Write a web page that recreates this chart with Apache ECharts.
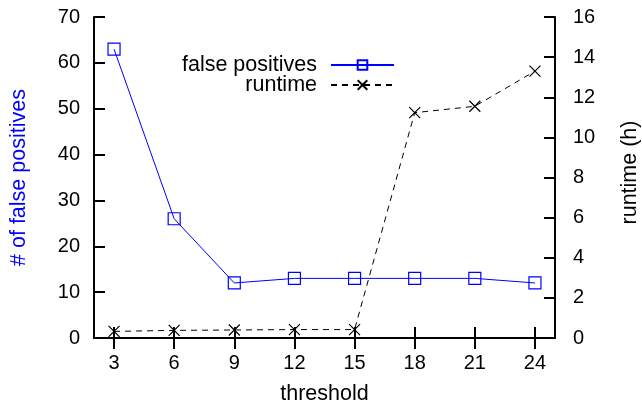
<!DOCTYPE html>
<html>
<head>
<meta charset="utf-8">
<script src="https://cdn.jsdelivr.net/npm/echarts@6/dist/echarts.min.js"></script>
<style>html,body{margin:0;padding:0;background:#fff}#c{width:642px;height:405px}</style>
</head>
<body>
<div id="c"></div>
<script>
var thresholds = [3, 6, 9, 12, 15, 18, 21, 24];
var falsePositives = [63, 26, 12, 13, 13, 13, 13, 12];
var runtime = [0.33, 0.38, 0.4, 0.42, 0.42, 11.23, 11.55, 13.3];
var leftTicks = [0, 10, 20, 30, 40, 50, 60, 70];
var rightTicks = [0, 2, 4, 6, 8, 10, 12, 14, 16];

var FONT = 'Liberation Sans, Arial, sans-serif';
var chart = echarts.init(document.getElementById('c'));
var axisLine = {show: true, lineStyle: {color: '#000', width: 2}};
var tick = {show: true, inside: true, length: 11, lineStyle: {color: '#000', width: 2}};

chart.setOption({
  animation: false,
  backgroundColor: '#fff',
  textStyle: {fontFamily: FONT},
  grid: {left: 94, right: 87, top: 17, bottom: 67, containLabel: false, outerBoundsMode: 'none'},
  legend: [
    {
      data: ['false positives'], orient: 'vertical', align: 'right',
      right: 247, top: 54, itemWidth: 63, itemHeight: 12, itemGap: 0,
      textStyle: {fontFamily: FONT, fontSize: 21.5, color: '#000', padding: [0, 9, 0, 0]},
      padding: 0
    },
    {
      data: ['runtime'], orient: 'vertical', align: 'right',
      right: 247, top: 74, itemWidth: 63, itemHeight: 12, itemGap: 0,
      textStyle: {fontFamily: FONT, fontSize: 21.5, color: '#000', padding: [0, 9, 0, 0]},
      padding: 0
    }
  ],
  xAxis: [
    {
      type: 'value', min: 2, max: 25, position: 'bottom',
      name: 'threshold', nameLocation: 'middle', nameGap: 45,
      nameTextStyle: {fontFamily: FONT, fontSize: 21.5, color: '#000'},
      axisLine: axisLine,
      axisTick: Object.assign({customValues: thresholds}, tick),
      axisLabel: {customValues: thresholds, fontFamily: FONT, fontSize: 20, color: '#000', margin: 15},
      splitLine: {show: false}
    },
    {
      type: 'value', min: 2, max: 25, position: 'top',
      axisLine: axisLine,
      axisTick: Object.assign({customValues: thresholds}, tick),
      axisLabel: {show: false, customValues: thresholds},
      splitLine: {show: false}
    }
  ],
  yAxis: [
    {
      type: 'value', min: 0, max: 70, interval: 10, position: 'left',
      name: '# of false positives', nameLocation: 'middle', nameGap: 64,
      nameTextStyle: {fontFamily: FONT, fontSize: 21.5, color: '#0000ff'},
      axisLine: axisLine, axisTick: tick,
      axisLabel: {fontFamily: FONT, fontSize: 20, color: '#000', margin: 14,
        customValues: leftTicks},
      splitLine: {show: false}
    },
    {
      type: 'value', min: 0, max: 16, interval: 2, position: 'right',
      name: 'runtime (h)', nameLocation: 'middle', nameGap: 64,
      nameTextStyle: {fontFamily: FONT, fontSize: 21.5, color: '#000', padding: [0, 0, 0, 10]},
      axisLine: axisLine, axisTick: tick,
      axisLabel: {fontFamily: FONT, fontSize: 20, color: '#000', margin: 18,
        customValues: rightTicks},
      splitLine: {show: false}
    }
  ],
  series: [
    {
      name: 'false positives', type: 'line', xAxisIndex: 0, yAxisIndex: 0,
      data: thresholds.map(function (t, i) { return [t, falsePositives[i]]; }),
      symbol: 'rect', symbolSize: 12, showAllSymbol: true,
      lineStyle: {color: '#0000ff', width: 1},
      itemStyle: {color: 'rgba(255,255,255,0)', borderColor: '#0000ff', borderWidth: 1.2},
      emphasis: {disabled: true}
    },
    {
      name: 'runtime', type: 'line', xAxisIndex: 0, yAxisIndex: 1,
      data: thresholds.map(function (t, i) { return [t, runtime[i]]; }),
      symbol: 'path://M0,0L10,10M10,0L0,10', symbolSize: 11, showAllSymbol: true,
      lineStyle: {color: '#000', width: 1, type: [6, 5]},
      itemStyle: {color: 'rgba(0,0,0,0)', borderColor: '#000', borderWidth: 1.2},
      emphasis: {disabled: true}
    }
  ]
});
</script>
</body>
</html>
